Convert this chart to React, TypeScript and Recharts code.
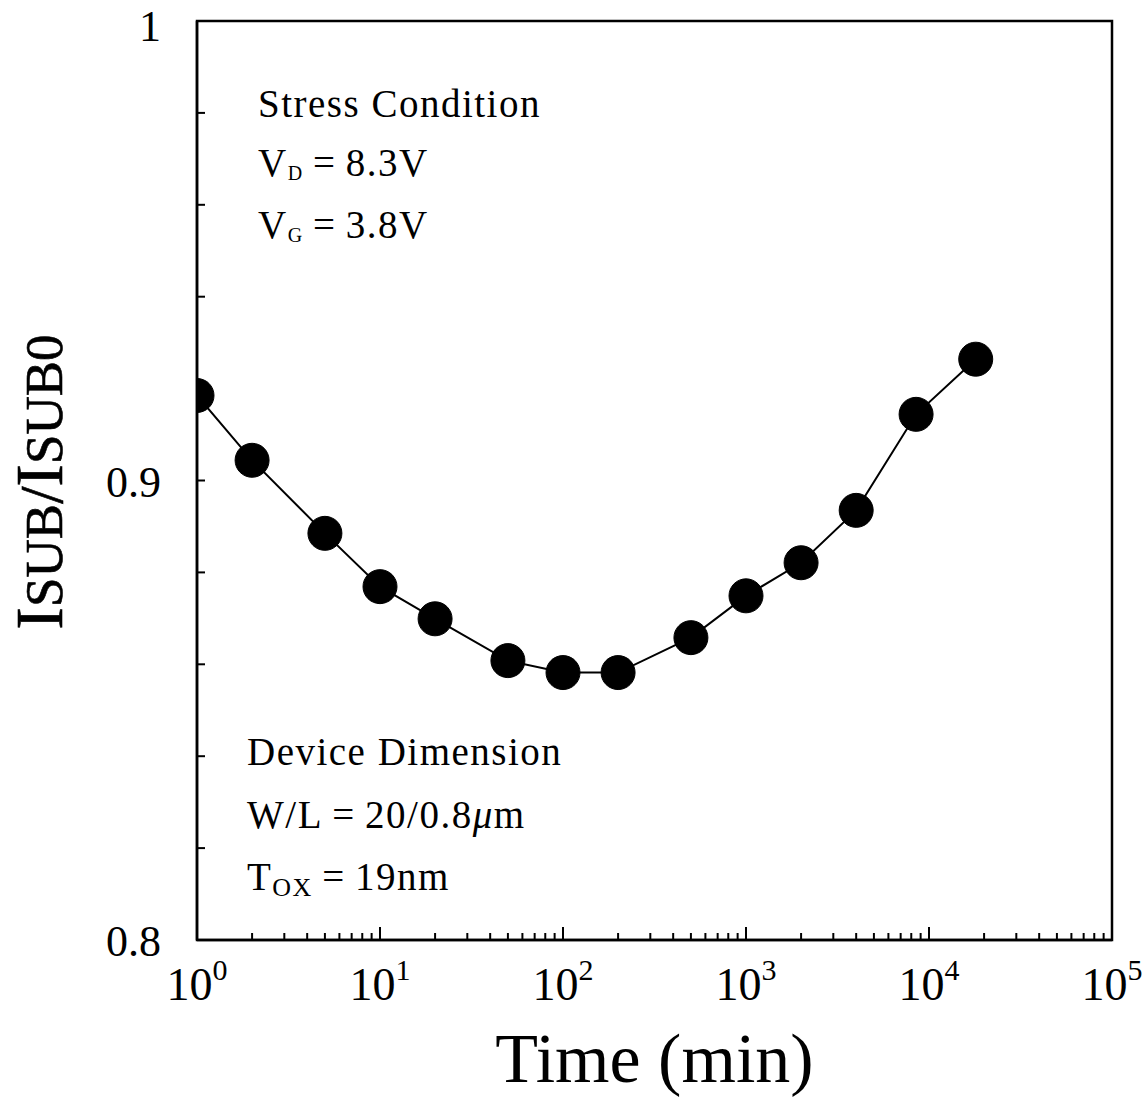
import React from 'react';
import { ComposedChart, Line, XAxis, YAxis, ReferenceArea } from 'recharts';

// stress time (min) and normalized substrate current
const times = [1, 2, 5, 10, 20, 50, 100, 200, 500, 1000, 2000, 4000, 8500, 18000];
const ratios = [0.9185, 0.9044, 0.8885, 0.8769, 0.8699, 0.8608, 0.8582, 0.8582, 0.8658, 0.8749, 0.8821, 0.8935, 0.9144, 0.9264];

// log decade ticks plus the 2..9 minor ticks
const decades = [1, 10, 100, 1000, 10000, 100000];
const xTicks = decades.flatMap((d, i) =>
  i === decades.length - 1 ? [d] : [1, 2, 3, 4, 5, 6, 7, 8, 9].map((m) => m * d)
);
const yTicks = [0.8, 0.82, 0.84, 0.86, 0.88, 0.9, 0.92, 0.94, 0.96, 0.98, 1.0];
const yLabels: Record<string, string> = { '0.8': '0.8', '0.9': '0.9', '1': '1' };

const data = times.map((t, i) => ({ time: t, ratio: ratios[i] }));

const FONT = '"Liberation Serif", "Times New Roman", serif';

function XTick(props: any) {
  const { x, y, payload } = props;
  const v = payload.value;
  const exp = Math.round(Math.log10(v));
  const major = Math.abs(Math.log10(v) - exp) < 1e-9;
  return (
    <g>
      <line x1={x} y1={y} x2={x} y2={y - (major ? 13 : 7)} stroke="#000" strokeWidth={2} />
      {major && (
        <text x={x} y={y + 60} textAnchor="middle" fontFamily={FONT} fontSize={46} fill="#000">
          10
          <tspan dy={-20} fontSize={30}>{exp}</tspan>
        </text>
      )}
    </g>
  );
}

function YTick(props: any) {
  const { x, y, payload } = props;
  const key = String(Math.round(payload.value * 100) / 100);
  const label = yLabels[key];
  // the top label sits a little lower so it stays inside the page
  const dy = key === '1' ? 20 : 16;
  return (
    <g>
      <line x1={x} y1={y} x2={x + 8} y2={y} stroke="#000" strokeWidth={2} />
      {label && (
        <text x={x - 36} y={y + dy} textAnchor="end" fontFamily={FONT} fontSize={44} fill="#000">
          {label}
        </text>
      )}
    </g>
  );
}

function XTitle(props: any) {
  const vb = props.viewBox || { x: 197, width: 915, y: 940 };
  return (
    <text
      x={vb.x + vb.width / 2}
      y={1082}
      textAnchor="middle"
      fontFamily={FONT}
      fontSize={70}
      fill="#000"
    >
      Time (min)
    </text>
  );
}

function YTitle() {
  return (
    <text
      transform="translate(62, 482) rotate(-90)"
      textAnchor="middle"
      fontFamily={FONT}
      fill="#000"
      stroke="#000"
      strokeWidth={0.6}
    >
      <tspan fontSize={68}>I</tspan>
      <tspan fontSize={53}>SUB</tspan>
      <tspan fontSize={62}>/</tspan>
      <tspan fontSize={68}>I</tspan>
      <tspan fontSize={53}>SUB0</tspan>
    </text>
  );
}

const note = { fontFamily: FONT, fontSize: 39, fill: '#000', letterSpacing: 1.5 };

export default function App() {
  return (
    <div style={{ position: 'absolute', left: 0, top: 0, background: '#fff' }}>
      <ComposedChart
        width={1147}
        height={1101}
        data={data}
        margin={{ top: 21, right: 35, bottom: 6, left: 0 }}
      >
        <XAxis
          dataKey="time"
          type="number"
          scale="log"
          domain={[1, 100000]}
          ticks={xTicks}
          interval={0}
          allowDataOverflow
          height={155}
          tickSize={0}
          tickMargin={0}
          tickLine={false}
          tick={<XTick />}
          axisLine={{ stroke: '#000', strokeWidth: 2.5 }}
          label={{ content: (p: any) => <XTitle {...p} /> }}
        />
        <YAxis
          type="number"
          domain={[0.8, 1]}
          ticks={yTicks}
          interval={0}
          allowDataOverflow
          width={197}
          tickSize={0}
          tickMargin={0}
          tickLine={false}
          tick={<YTick />}
          axisLine={{ stroke: '#000', strokeWidth: 2.5 }}
          label={{ content: () => <YTitle /> }}
        />
        <ReferenceArea
          x1={1}
          x2={100000}
          y1={0.8}
          y2={1}
          fill="none"
          stroke="#000"
          strokeWidth={2.5}
          ifOverflow="visible"
        />
        <Line
          dataKey="ratio"
          type="linear"
          stroke="#000"
          strokeWidth={2}
          dot={{ r: 17, fill: '#000', stroke: '#000', strokeWidth: 1 }}
          isAnimationActive={false}
        />
        <text x={258} y={117} {...note}>
          Stress Condition
        </text>
        <text x={258} y={176} {...note}>
          V<tspan fontSize={20} dy={4}>D</tspan>
          <tspan dy={-4}>{'\u2009=\u20098.3V'}</tspan>
        </text>
        <text x={258} y={238} {...note}>
          V<tspan fontSize={20} dy={4}>G</tspan>
          <tspan dy={-4}>{'\u2009=\u20093.8V'}</tspan>
        </text>
        <text x={247} y={765} {...note}>
          Device Dimension
        </text>
        <text x={247} y={828} {...note}>
          {'W/L\u2009=\u200920/0.8'}
          <tspan fontStyle="italic">μ</tspan>m
        </text>
        <text x={247} y={890} {...note}>
          T<tspan fontSize={26} dy={6}>OX</tspan>
          <tspan dy={-6}>{'\u2009=\u200919nm'}</tspan>
        </text>
      </ComposedChart>
    </div>
  );
}
